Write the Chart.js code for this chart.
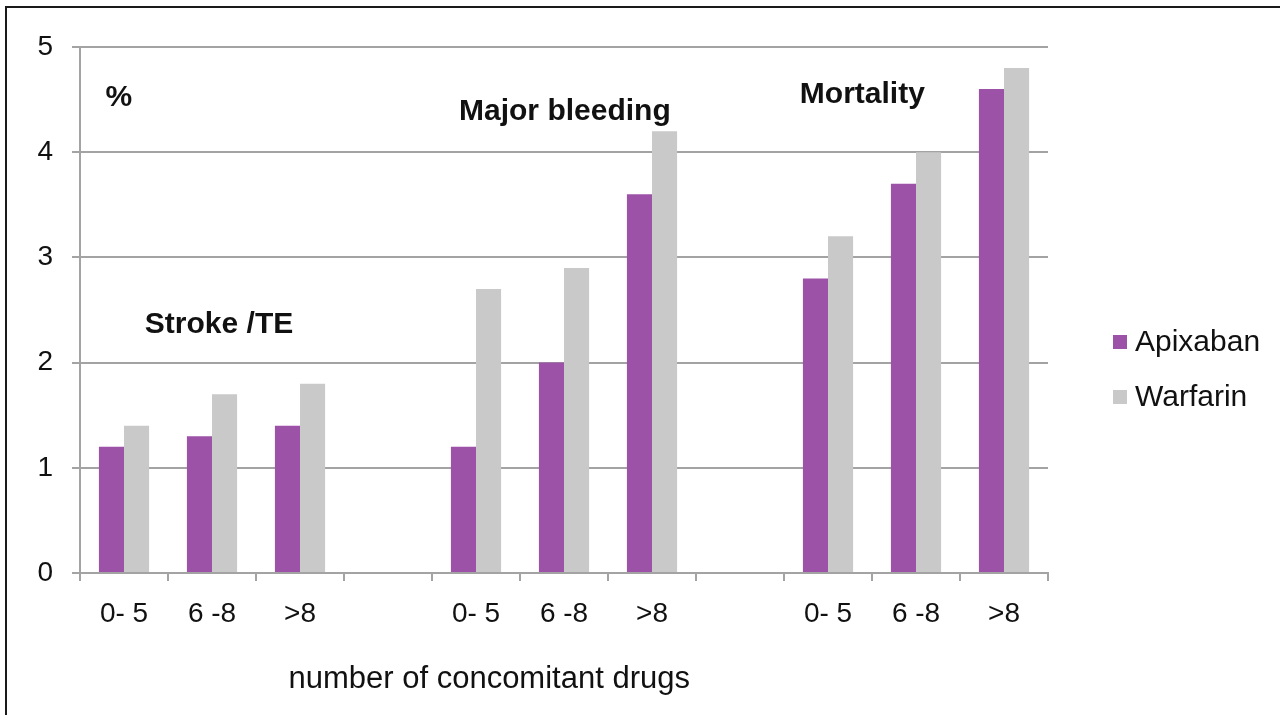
<!DOCTYPE html>
<html>
<head>
<meta charset="utf-8">
<title>Apixaban vs Warfarin</title>
<script src="https://cdn.jsdelivr.net/npm/chart.js@4.4.1/dist/chart.umd.min.js"></script>
<style>
  html, body { margin: 0; padding: 0; background: #fff; }
  #wrap { position: relative; width: 1280px; height: 715px; }
  #frame {
    position: absolute; left: 5px; top: 6px; right: 0; bottom: 0;
    border-top: 2px solid #1a1a1a; border-left: 2px solid #1a1a1a;
    pointer-events: none;
  }
</style>
</head>
<body>
<div id="wrap">
  <canvas id="chart" width="1280" height="715"></canvas>
  <div id="frame"></div>
</div>
<script>
const categories = ["0- 5", "6 -8", ">8", "", "0- 5", "6 -8", ">8", "", "0- 5", "6 -8", ">8"];
const apixaban = [1.2, 1.3, 1.4, null, 1.2, 2.0, 3.6, null, 2.8, 3.7, 4.6];
const warfarin = [1.4, 1.7, 1.8, null, 2.7, 2.9, 4.2, null, 3.2, 4.0, 4.8];
const seriesNames = ["Apixaban", "Warfarin"];
const groupNames = ["%", "Stroke /TE", "Major bleeding", "Mortality"];
const xTitle = "number of concomitant drugs";

const FONT = "'Liberation Sans', Arial, Helvetica, sans-serif";
const colors = ["#9c52a7", "#c9c9c9"];
const gridColor = "#a3a3a3";

// where the group labels sit, as [category index, y value]
const groupAnchors = [[-0.06, 4.52], [1.08, 2.36], [5.01, 4.38], [8.39, 4.55]];

const annotations = {
  id: "annotations",
  afterDraw(chart) {
    const ctx = chart.ctx;
    const x = chart.scales.x, y = chart.scales.y;
    const area = chart.chartArea;
    ctx.save();
    ctx.fillStyle = "#111";
    ctx.textAlign = "center";
    ctx.textBaseline = "middle";

    ctx.font = "bold 30px " + FONT;
    groupNames.forEach((t, i) => {
      const a = groupAnchors[i];
      ctx.fillText(t, x.getPixelForValue(a[0]), y.getPixelForValue(a[1]));
    });

    // axis title, left of centre like the original
    ctx.font = "31px " + FONT;
    ctx.fillText(xTitle, x.getPixelForValue(4.15), area.bottom + 106);

    // legend
    ctx.textAlign = "left";
    ctx.font = "30px " + FONT;
    chart.data.datasets.forEach((ds, i) => {
      const cy = area.top + 295 + i * 55;
      ctx.fillStyle = ds.backgroundColor;
      ctx.fillRect(area.right + 65, cy - 7, 14, 14);
      ctx.fillStyle = "#111";
      ctx.fillText(ds.label, area.right + 87, cy + 1);
    });
    ctx.restore();
  }
};

new Chart(document.getElementById("chart"), {
  type: "bar",
  data: {
    labels: categories,
    datasets: seriesNames.map((name, i) => ({
      label: name,
      data: [apixaban, warfarin][i],
      backgroundColor: colors[i],
      borderWidth: 0,
      categoryPercentage: 0.57,
      barPercentage: 1.0
    }))
  },
  options: {
    responsive: false,
    animation: false,
    layout: { padding: { left: 10, right: 232, top: 47, bottom: 0 } },
    plugins: { legend: { display: false }, tooltip: { enabled: false } },
    scales: {
      x: {
        grid: { drawOnChartArea: false, drawTicks: true, tickLength: 8, color: gridColor, lineWidth: 2 },
        border: { color: gridColor, width: 2 },
        ticks: { color: "#111", font: { family: FONT, size: 28 }, padding: 16, maxRotation: 0, autoSkip: false },
        afterFit(s) { s.height = 142; }
      },
      y: {
        min: 0, max: 5,
        grid: { color: gridColor, lineWidth: 2, tickLength: 8 },
        border: { color: gridColor, width: 2 },
        ticks: { stepSize: 1, color: "#111", font: { family: FONT, size: 28 }, padding: 19 },
        afterFit(s) { s.width = 70; }
      }
    }
  },
  plugins: [annotations]
});
</script>
</body>
</html>
